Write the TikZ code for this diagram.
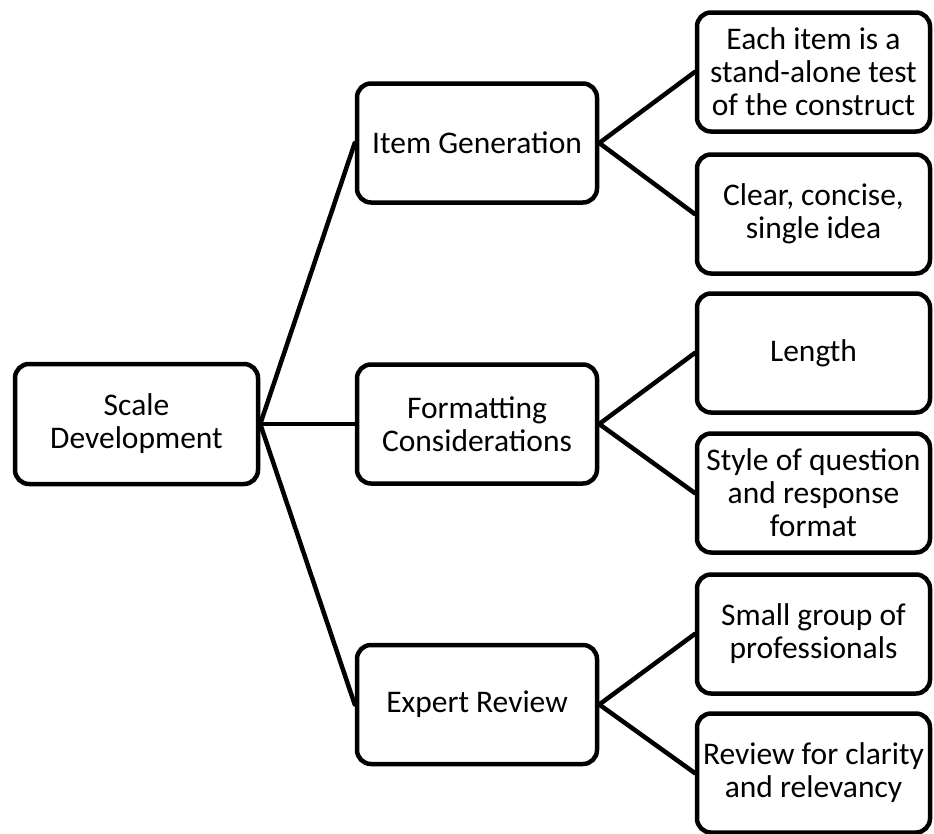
\documentclass[tikz,border=0pt]{standalone}
\usepackage{fontspec}
\setmainfont{Carlito}
\begin{document}
\begin{tikzpicture}[x=1pt,y=-1pt,
  box/.style={draw=black, line width=4.5pt, rounded corners=14pt, fill=white,
    align=center, inner sep=2pt, font=\fontsize{31.5}{33}\selectfont},
  rootbox/.style={box, minimum width=243pt, minimum height=120pt},
  midbox/.style={box, minimum width=240pt, minimum height=119pt},
  leafbox/.style={box, minimum width=233pt, minimum height=119pt},
  link/.style={line width=4.5pt, line cap=round}]
\useasboundingbox (0,0) rectangle (934,833);
\node[rootbox] (root) at (136.5,424) {Scale\\Development};
\node[midbox] (ig) at (477,143) {Item Generation};
\node[midbox] (fc) at (477,424) {Formatting\\Considerations};
\node[midbox] (er) at (477,704.5) {Expert Review};
\node[leafbox] (l1) at (813.5,72) {Each item is a\\stand-alone test\\of the construct};
\node[leafbox] (l2) at (813.5,214) {Clear, concise,\\single idea};
\node[leafbox] (l3) at (813.5,353) {Length};
\node[leafbox] (l4) at (813.5,493) {Style of question\\and response\\format};
\node[leafbox] (l5) at (813.5,634) {Small group of\\professionals};
\node[leafbox] (l6) at (813.5,773) {Review for clarity\\and relevancy};
\draw[link] (root.east) -- (ig.west);
\draw[link] (root.east) -- (fc.west);
\draw[link] (root.east) -- (er.west);
\draw[link] (ig.east) -- (l1.west);
\draw[link] (ig.east) -- (l2.west);
\draw[link] (fc.east) -- (l3.west);
\draw[link] (fc.east) -- (l4.west);
\draw[link] (er.east) -- (l5.west);
\draw[link] (er.east) -- (l6.west);
\end{tikzpicture}
\end{document}
